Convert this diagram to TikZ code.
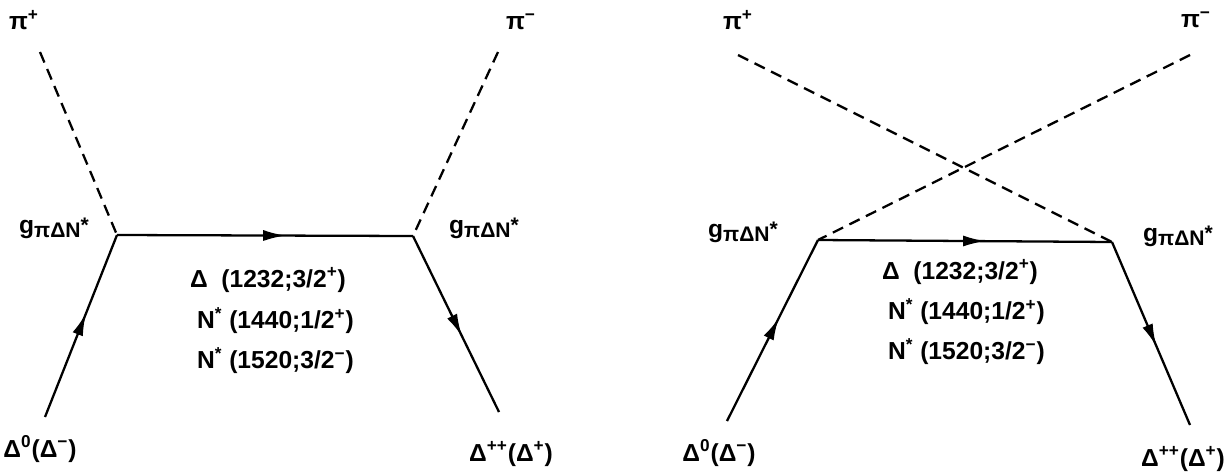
\documentclass[tikz,border=0pt]{standalone}
\usepackage{fontspec}
\setmainfont{Liberation Sans}
\usetikzlibrary{arrows.meta, decorations.markings}
\tikzset{
    lbl/.style={font=\fontsize{14}{16}\selectfont\bfseries, inner sep=1pt},
    res/.style={lbl, anchor=west},
    pion/.style={line width=1.3pt, dash pattern=on 6.5pt off 4pt},
    baryon/.style={line width=1.3pt, postaction={decorate},
        decoration={markings, mark=at position 0.57 with {\arrow{Latex[length=4.5mm, width=2.2mm]}}}}
}
\newcommand{\gcoup}{g\raisebox{-2.5pt}{\fontsize{12}{13}\selectfont πΔN\raisebox{3pt}{*}}}

\begin{document}
\begin{tikzpicture}[x=0.02cm, y=-0.02cm]
    \useasboundingbox (0,0) rectangle (1231,474);

    % s-channel
    \coordinate (vA) at (117,235);
    \coordinate (vB) at (413,236);
    \coordinate (pipA) at (40,52);
    \coordinate (pimA) at (498,52);
    \coordinate (inA) at (45,417);
    \coordinate (outA) at (499,412);

    \node[lbl] (pipAlbl) at (24,20) {π\textsuperscript{+}};
    \node[lbl] (pimAlbl) at (521,22) {π\textsuperscript{−}};
    \node[lbl] (gAl) at (54,228) {\gcoup};
    \node[lbl] (gAr) at (484,228) {\gcoup};
    \node[lbl] (inAlbl) at (40,449) {Δ\textsuperscript{0}(Δ\textsuperscript{−})};
    \node[lbl] (outAlbl) at (511,454) {Δ\textsuperscript{++}(Δ\textsuperscript{+})};
    \node[res] (resA1) at (188,280) {Δ\ \ (1232;3/2\textsuperscript{+})};
    \node[res] (resA2) at (195,321) {N\textsuperscript{*} (1440;1/2\textsuperscript{+})};
    \node[res] (resA3) at (195,361) {N\textsuperscript{*} (1520;3/2\textsuperscript{−})};

    \draw[pion] (pipA) -- (vA);
    \draw[pion] (pimA) -- (vB);
    \draw[baryon] (inA) -- (vA);
    \draw[baryon] (vA) -- (vB);
    \draw[baryon] (vB) -- (outA);

    % u-channel
    \coordinate (vC) at (818,240);
    \coordinate (vD) at (1112,242);
    \coordinate (pipB) at (738,55);
    \coordinate (pimB) at (1190,55);
    \coordinate (inB) at (727,421);
    \coordinate (outB) at (1190,425);

    \node[lbl] (pipBlbl) at (738,20) {π\textsuperscript{+}};
    \node[lbl] (pimBlbl) at (1196,20) {π\textsuperscript{−}};
    \node[lbl] (gBl) at (743,232) {\gcoup};
    \node[lbl] (gBr) at (1178,236) {\gcoup};
    \node[lbl] (inBlbl) at (719,453) {Δ\textsuperscript{0}(Δ\textsuperscript{−})};
    \node[lbl] (outBlbl) at (1183,459) {Δ\textsuperscript{++}(Δ\textsuperscript{+})};
    \node[res] (resB1) at (880,272) {Δ\ \ (1232;3/2\textsuperscript{+})};
    \node[res] (resB2) at (886,312) {N\textsuperscript{*} (1440;1/2\textsuperscript{+})};
    \node[res] (resB3) at (886,352) {N\textsuperscript{*} (1520;3/2\textsuperscript{−})};

    \draw[pion] (pipB) -- (vD);
    \draw[pion] (pimB) -- (vC);
    \draw[baryon] (inB) -- (vC);
    \draw[baryon] (vC) -- (vD);
    \draw[baryon] (vD) -- (outB);

\end{tikzpicture}
\end{document}
